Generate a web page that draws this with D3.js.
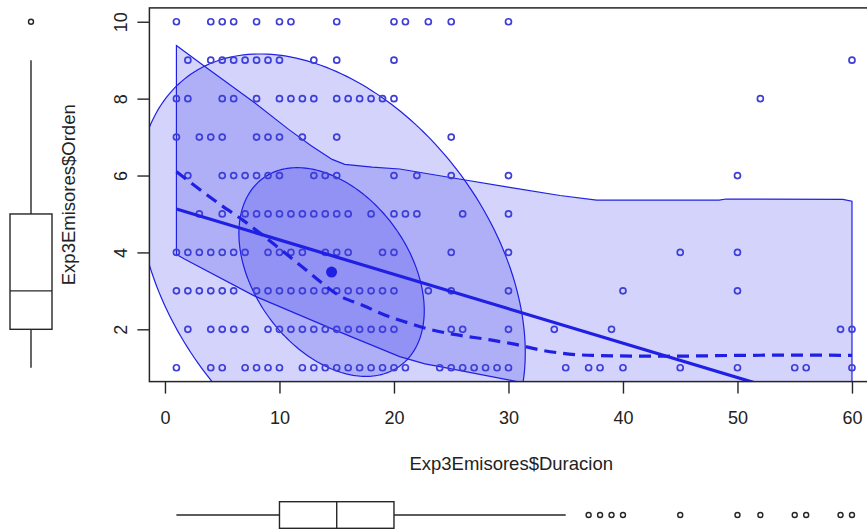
<!DOCTYPE html>
<html><head><meta charset="utf-8">
<script src="https://cdn.jsdelivr.net/npm/d3@7"></script>
<style>
body{margin:0;background:#fff}
svg{display:block}
text{font-family:"Liberation Sans",Arial,sans-serif;fill:#222}
</style>
</head><body>
<svg id="chart" width="867" height="529"></svg>
<script>
// Duracion values recorded at each Orden level (1..10)
const orden10 = [1,4,5,6,8,10,11,15,20,21,23,25,30];
const orden9  = [2,4,5,6,7,8,9,10,13,15,20,60];
const orden8  = [1,2,5,6,8,10,11,12,13,15,16,17,18,19,20,52];
const orden7  = [1,3,4,5,8,9,10,12,15,25];
const orden6  = [2,5,6,7,8,9,10,13,14,15,20,22,25,30,50];
const orden5  = [3,5,7,8,9,10,11,12,13,14,15,16,18,20,21,22,26,30];
const orden4  = [1,2,3,4,5,6,7,9,10,11,12,14,15,16,19,20,25,30,45,50];
const orden3  = [1,2,3,4,5,6,8,9,10,11,12,13,14,15,16,17,18,19,20,23,25,30,40,50];
const orden2  = [2,4,5,6,7,9,10,11,12,13,14,15,16,17,18,19,20,25,26,30,34,39,59,60];
const orden1  = [1,4,5,7,8,9,10,12,13,14,15,16,17,18,19,20,21,24,25,26,27,28,29,30,35,37,38,40,45,50,55,56,60];

// Axis ticks
const xTicks = [0,10,20,30,40,50,60];
const yTicks = [2,4,6,8,10];

// Marginal boxplot statistics: [lower whisker, Q1, median, Q3, upper whisker]
const durBox = [1,10,15,20,35];
const durOutliers = [37,38,39,40,45,50,52,55,56,59,60];
const ordenBox = [1,2,3,5,9];
const ordenOutliers = [10];

// Linear fit: [intercept, slope]
const lmCoef = [5.22, -0.0895];

// Smoother (dashed)
const loessX = [1,3.2,4.9,6.8,10,12,13.6,15.2,17.3,19.3,21.1,23.1,25.4,28.3,30.4,33,37.4,43.8,49.6,55.4,60];
const loessY = [6.1,5.6,5.23,4.84,4.1,3.62,3.23,2.88,2.62,2.36,2.18,2.0,1.86,1.73,1.62,1.45,1.32,1.30,1.32,1.33,1.32];

// Spread band around the smoother
const spreadUpX = [1,3.6,7.8,10.8,12.8,14.6,15.7,18.1,20.5,25.7,30.1,34.5,37.7,48.4,49,59.2,60];
const spreadUpY = [9.38,8.81,7.9,7.2,6.77,6.42,6.29,6.22,6.17,5.91,5.69,5.48,5.36,5.36,5.39,5.38,5.33];
const spreadLoX = [1,1.7,7.8,14.6,20.5,22.7,24,30.1,34,60];
const spreadLoY = [3.95,3.83,2.87,2.01,1.29,1.1,1.03,0.68,0.45,0.1];

// Data ellipses: centroid, standard deviations, correlation, radii (95% and 50%)
const centroid = [14.55, 3.49];
const sdXY = [6.86, 2.30];
const rhoXY = -0.37;
const ellipseRadii = [2.466, 1.180];

const rows = [orden1,orden2,orden3,orden4,orden5,orden6,orden7,orden8,orden9,orden10];
const points = [];
rows.forEach((r, i) => r.forEach(d => points.push({x: d, y: i + 1})));

const svg = d3.select("#chart");
const pL = 149.4, pR = 879, pT = 7.9, pB = 381.6;

// R-style 4% padding of the data range
const xr = d3.extent(points, d => d.x), yr = d3.extent(points, d => d.y);
const xp = (xr[1] - xr[0]) * 0.04, yp = (yr[1] - yr[0]) * 0.04;
const x = d3.scaleLinear().domain([xr[0] - xp, xr[1] + xp]).range([pL, pR]);
const y = d3.scaleLinear().domain([yr[0] - yp, yr[1] + yp]).range([pB, pT]);

const blue = "#1414e8";
const lineBlue = "#2020e4";
const ptBlue = "#3e3ed8";
const ink = "#262626";

svg.append("defs").append("clipPath").attr("id", "plotclip")
  .append("rect").attr("x", pL).attr("y", pT).attr("width", pR - pL).attr("height", pB - pT);

const plot = svg.append("g").attr("clip-path", "url(#plotclip)");

// Ellipses
const line = d3.line().x(d => x(d[0])).y(d => y(d[1]));
ellipseRadii.forEach(r => {
  const pts = d3.range(0, 241).map(k => {
    const t = k / 240 * 2 * Math.PI;
    const c = Math.cos(t), s = Math.sin(t);
    return [centroid[0] + r * sdXY[0] * c,
            centroid[1] + r * (rhoXY * sdXY[1] * c + sdXY[1] * Math.sqrt(1 - rhoXY * rhoXY) * s)];
  });
  plot.append("path").attr("d", line(pts) + "Z")
    .attr("fill", blue).attr("fill-opacity", 0.19)
    .attr("stroke", lineBlue).attr("stroke-width", 1.2);
});

// Spread band
const band = spreadUpX.map((v, i) => [v, spreadUpY[i]])
  .concat(spreadLoX.map((v, i) => [v, spreadLoY[i]]).reverse());
plot.append("path").attr("d", d3.line().curve(d3.curveLinear).x(d => x(d[0])).y(d => y(d[1]))(band) + "Z")
  .attr("fill", blue).attr("fill-opacity", 0.19)
  .attr("stroke", lineBlue).attr("stroke-width", 1.2);

// Points
plot.append("g").selectAll("circle").data(points).join("circle")
  .attr("cx", d => x(d.x)).attr("cy", d => y(d.y)).attr("r", 3)
  .attr("fill", "none").attr("stroke", ptBlue).attr("stroke-width", 1.7);

// Linear fit
const fitX = [xr[0], xr[1]];
plot.append("path").attr("d", line(fitX.map(v => [v, lmCoef[0] + lmCoef[1] * v])))
  .attr("fill", "none").attr("stroke", lineBlue).attr("stroke-width", 3.2);

// Smoother
plot.append("path").attr("d", d3.line().curve(d3.curveMonotoneX).x(d => x(d[0])).y(d => y(d[1]))(loessX.map((v, i) => [v, loessY[i]])))
  .attr("fill", "none").attr("stroke", lineBlue).attr("stroke-width", 3.2)
  .attr("stroke-dasharray", "12,7");

// Centroid
plot.append("circle").attr("cx", x(centroid[0])).attr("cy", y(centroid[1])).attr("r", 5.5).attr("fill", lineBlue);

// Frame
svg.append("rect").attr("x", pL).attr("y", pT).attr("width", pR - pL).attr("height", pB - pT)
  .attr("fill", "none").attr("stroke", ink).attr("stroke-width", 1.5);

// X axis
const gx = svg.append("g").attr("transform", `translate(0,${pB})`)
  .call(d3.axisBottom(x).tickValues(xTicks).tickSize(12).tickPadding(18).tickFormat(d3.format("d")));
gx.select(".domain").remove();
gx.selectAll("line").attr("stroke", ink).attr("stroke-width", 1.4);
gx.selectAll("text").attr("font-size", 18).attr("fill", ink).style("font-family", "Liberation Sans, Arial, sans-serif");

// Y axis with labels parallel to the axis
const gy = svg.append("g").attr("transform", `translate(${pL},0)`)
  .call(d3.axisLeft(y).tickValues(yTicks).tickSize(12).tickFormat(d3.format("d")));
gy.select(".domain").remove();
gy.selectAll("line").attr("stroke", ink).attr("stroke-width", 1.4);
gy.selectAll("text").attr("font-size", 18).attr("fill", ink)
  .style("font-family", "Liberation Sans, Arial, sans-serif")
  .attr("transform", "rotate(-90)").attr("x", 0).attr("y", -22.5).attr("dy", 0)
  .attr("text-anchor", "middle");

// Axis titles
svg.append("text").attr("x", (pL + pR) / 2 - 3).attr("y", 470).attr("text-anchor", "middle")
  .attr("font-size", 18.5).text("Exp3Emisores$Duracion");
svg.append("text").attr("transform", `translate(74.5,${(pT + pB) / 2}) rotate(-90)`)
  .attr("text-anchor", "middle").attr("font-size", 18.5).text("Exp3Emisores$Orden");

// Marginal boxplot for Orden (left)
const bx = 31, bw = 21;
const lb = svg.append("g").attr("stroke", ink).attr("stroke-width", 1.4).attr("fill", "none");
lb.append("line").attr("x1", bx).attr("x2", bx).attr("y1", y(ordenBox[0])).attr("y2", y(ordenBox[1]));
lb.append("line").attr("x1", bx).attr("x2", bx).attr("y1", y(ordenBox[3])).attr("y2", y(ordenBox[4]));
lb.append("rect").attr("x", bx - bw).attr("width", 2 * bw).attr("y", y(ordenBox[3])).attr("height", y(ordenBox[1]) - y(ordenBox[3])).attr("fill", "#fff");
lb.append("line").attr("x1", bx - bw).attr("x2", bx + bw).attr("y1", y(ordenBox[2])).attr("y2", y(ordenBox[2]));
lb.selectAll("circle").data(ordenOutliers).join("circle").attr("cx", bx).attr("cy", d => y(d)).attr("r", 2.5);

// Marginal boxplot for Duracion (bottom)
const by = 515, bh = 13.3;
const bb = svg.append("g").attr("stroke", ink).attr("stroke-width", 1.4).attr("fill", "none");
bb.append("line").attr("y1", by).attr("y2", by).attr("x1", x(durBox[0])).attr("x2", x(durBox[1]));
bb.append("line").attr("y1", by).attr("y2", by).attr("x1", x(durBox[3])).attr("x2", x(durBox[4]));
bb.append("rect").attr("y", by - bh).attr("height", 2 * bh).attr("x", x(durBox[1])).attr("width", x(durBox[3]) - x(durBox[1])).attr("fill", "#fff");
bb.append("line").attr("y1", by - bh).attr("y2", by + bh).attr("x1", x(durBox[2])).attr("x2", x(durBox[2]));
bb.selectAll("circle").data(durOutliers).join("circle").attr("cy", by).attr("cx", d => x(d)).attr("r", 2.5);
</script>
</body></html>
